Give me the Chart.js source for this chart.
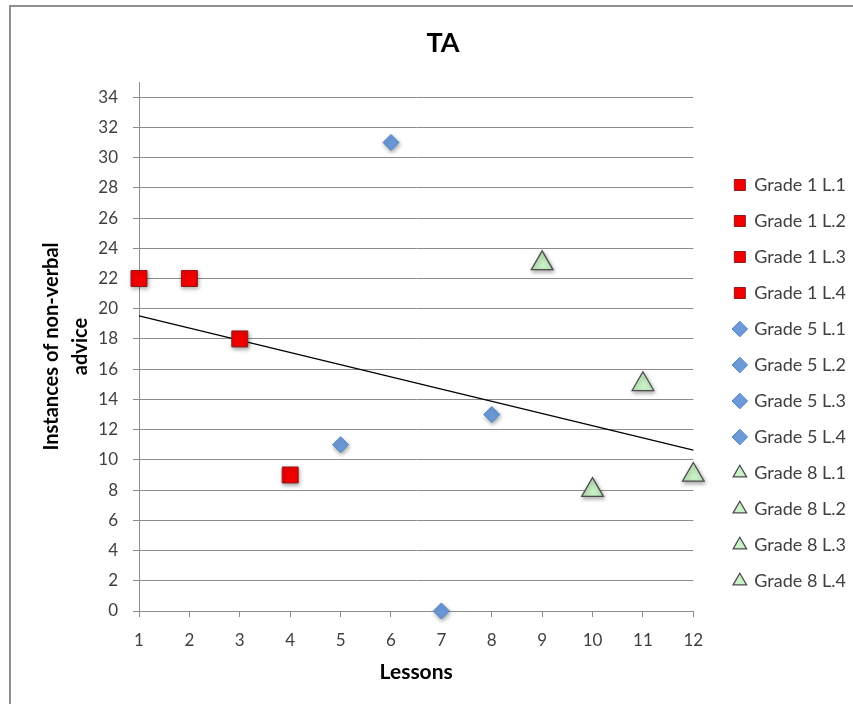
<!DOCTYPE html>
<html>
<head>
<meta charset="utf-8">
<script src="https://cdn.jsdelivr.net/npm/chart.js@4/dist/chart.umd.min.js"></script>
<style>
  html, body { margin: 0; padding: 0; background: #fff; overflow: hidden; width: 853px; height: 704px; }
  #frame { position: absolute; left: 9px; top: 5px; border-top: 2px solid #8f8f8f; border-left: 2px solid #8f8f8f; background: #fff; }
  canvas { display: block; }
</style>
</head>
<body>
<div id="frame"><canvas id="chart" width="842" height="752"></canvas></div>
<script>
// Lessons observed, one point per lesson
const seriesNames = [
  'Grade 1 L.1', 'Grade 1 L.2', 'Grade 1 L.3', 'Grade 1 L.4',
  'Grade 5 L.1', 'Grade 5 L.2', 'Grade 5 L.3', 'Grade 5 L.4',
  'Grade 8 L.1', 'Grade 8 L.2', 'Grade 8 L.3', 'Grade 8 L.4'
];
const seriesGrade = [1, 1, 1, 1, 5, 5, 5, 5, 8, 8, 8, 8];
const lessonNumbers = [1, 2, 3, 4, 5, 6, 7, 8, 9, 10, 11, 12];
const nonVerbalCounts = [22, 22, 18, 9, 11, 31, 0, 13, 23, 8, 15, 9];

// Axis ranges
const xRange = [1, 12];
const yRange = [0, 35];
const yStep = 2;

// Marker look per grade
const gradeStyle = {
  1: { pointStyle: 'rect',     radius: 11.3, fill: '#f20000', border: '#8e1b1b', width: 1 },
  5: { pointStyle: 'rectRot',  radius: 8,    fill: '#6c9ad9', border: '#5583c4', width: 1 },
  8: { pointStyle: 'triangle', radius: 12.5, fill: '#c8f1c6', border: '#4d4d4d', width: 1.3 }
};

// Least-squares linear trend across all lessons
function linearTrend(xs, ys) {
  const n = xs.length;
  const mx = xs.reduce((a, b) => a + b, 0) / n;
  const my = ys.reduce((a, b) => a + b, 0) / n;
  let sxy = 0, sxx = 0;
  for (let i = 0; i < n; i++) { sxy += (xs[i] - mx) * (ys[i] - my); sxx += (xs[i] - mx) ** 2; }
  const slope = sxy / sxx;
  const icpt = my - slope * mx;
  return x => icpt + slope * x;
}
const trend = linearTrend(lessonNumbers, nonVerbalCounts);

const pointSets = seriesNames.map((name, i) => {
  const st = gradeStyle[seriesGrade[i]];
  return {
    label: name,
    data: [{ x: lessonNumbers[i], y: nonVerbalCounts[i] }],
    pointStyle: st.pointStyle,
    pointRadius: st.radius,
    pointHoverRadius: st.radius,
    backgroundColor: st.fill,
    borderColor: st.border,
    borderWidth: st.width,
    clip: false,
    order: 0
  };
});

const trendSet = {
  type: 'line',
  label: 'trend',
  data: xRange.map(x => ({ x, y: trend(x) })),
  borderColor: '#000000',
  borderWidth: 1.2,
  pointRadius: 0,
  fill: false,
  clip: false,
  order: 1
};

// Soft drop shadow under the markers (not under the trend line)
const markerShadow = {
  id: 'markerShadow',
  beforeDatasetDraw(chart, args) {
    if (args.meta.type === 'line') return;
    const ctx = chart.ctx;
    ctx.save();
    ctx.shadowColor = 'rgba(0,0,0,0.35)';
    ctx.shadowBlur = 4;
    ctx.shadowOffsetX = 1;
    ctx.shadowOffsetY = 2;
  },
  afterDatasetDraw(chart, args) {
    if (args.meta.type === 'line') return;
    chart.ctx.restore();
  }
};

const gridGray = '#8c8c8c';
const textGray = '#404040';
const family = 'Lato, "Open Sans", sans-serif';

new Chart(document.getElementById('chart'), {
  type: 'scatter',
  data: { datasets: [...pointSets, trendSet] },
  plugins: [markerShadow],
  options: {
    responsive: false,
    animation: false,
    events: [],
    layout: { padding: { left: 22, top: 0, right: 0, bottom: 0 } },
    plugins: {
      title: {
        display: true,
        text: 'TA',
        color: '#000',
        font: { family, size: 27, weight: 'bold' },
        padding: { top: 20, bottom: 22.6 }
      },
      legend: {
        display: true,
        position: 'right',
        align: 'center',
        labels: {
          usePointStyle: true,
          boxWidth: 11,
          boxHeight: 11,
          padding: 18,
          color: textGray,
          font: { family, size: 18 },
          filter: item => item.text !== 'trend'
        }
      },
      tooltip: { enabled: false }
    },
    scales: {
      x: {
        type: 'linear',
        min: xRange[0],
        max: xRange[1],
        ticks: { stepSize: 1, color: textGray, font: { family, size: 17 }, padding: 13 },
        grid: { drawOnChartArea: false, drawTicks: true, tickLength: 6, color: gridGray },
        border: { display: true, color: gridGray, width: 1 },
        title: {
          display: true,
          text: 'Lessons',
          color: '#000',
          font: { family, size: 21, weight: 'bold' },
          padding: { top: 8, bottom: 74 }
        },
        afterFit: scale => { scale.height = 148; }
      },
      y: {
        type: 'linear',
        min: yRange[0],
        max: yRange[1],
        ticks: { stepSize: yStep, includeBounds: false, color: textGray, font: { family, size: 17 }, padding: 15 },
        grid: { color: gridGray, lineWidth: 1, tickLength: 6 },
        border: { display: true, color: gridGray, width: 1 },
        title: {
          display: true,
          text: ['Instances of non-verbal', 'advice'],
          color: '#000',
          font: { family, size: 20, weight: 'bold', lineHeight: 1.45 },
          padding: { top: 4.5, bottom: 0 }
        },
        afterFit: scale => { scale.width = 106; }
      },
      gap: {
        type: 'linear',
        position: 'right',
        display: true,
        grid: { display: false },
        border: { display: false },
        ticks: { display: false },
        afterFit: scale => { scale.width = 23; }
      }
    }
  }
});
</script>
</body>
</html>
